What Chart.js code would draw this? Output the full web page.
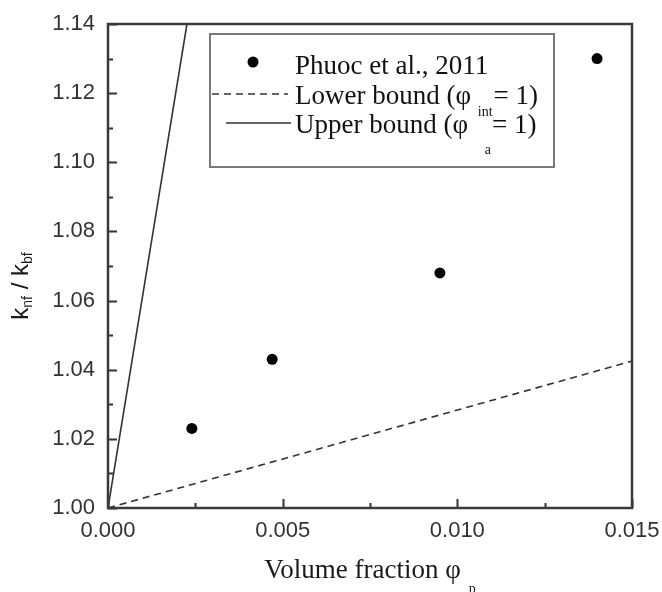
<!DOCTYPE html>
<html>
<head>
<meta charset="utf-8">
<script src="https://cdn.jsdelivr.net/npm/chart.js@4.4.1/dist/chart.umd.min.js"></script>
<style>
  html, body { margin: 0; padding: 0; background: #fff; }
  #wrap { width: 662px; height: 592px; }
</style>
</head>
<body>
<div id="wrap"><canvas id="kplot" width="662" height="592"></canvas></div>
<script>
// Phuoc et al., 2011 measurements
const phiData = [0.0024, 0.0047, 0.0095, 0.0140];
const kData = [1.023, 1.043, 1.068, 1.130];

// bound lines (end points)
const lowerPhi = [0, 0.015];
const lowerK = [1.0, 1.0425];
const upperPhi = [0, 0.00226];
const upperK = [1.0, 1.14];

// axis ticks
const xTicks = [0, 0.005, 0.010, 0.015];
const yTicks = [1.00, 1.02, 1.04, 1.06, 1.08, 1.10, 1.12, 1.14];

const SERIF = '"Liberation Serif", "Times New Roman", serif';
const SANS = '"Liberation Sans", Arial, sans-serif';

const pts = (xs, ys) => xs.map((v, i) => ({ x: v, y: ys[i] }));

// draws a run of text pieces (main text + subscripts) left to right
function richWidth(ctx, parts) {
  let w = 0;
  for (const p of parts) {
    ctx.font = p.font;
    w += ctx.measureText(p.text).width + (p.gap || 0);
  }
  return w;
}
function drawRich(ctx, parts, x, y) {
  for (const p of parts) {
    ctx.font = p.font;
    ctx.fillText(p.text, x, y + (p.dy || 0));
    x += ctx.measureText(p.text).width + (p.gap || 0);
  }
  return x;
}

const legendRows = [
  [{ text: 'Phuoc et al., 2011', font: '27px ' + SERIF }],
  [{ text: 'Lower bound (\u03c6 ', font: '27px ' + SERIF, gap: 0 },
   { text: 'int', font: '14px ' + SERIF, dy: 12, gap: 1 },
   { text: '= 1)', font: '27px ' + SERIF }],
  [{ text: 'Upper bound (\u03c6 ', font: '27px ' + SERIF, gap: 10 },
   { text: 'a', font: '14px ' + SERIF, dy: 21, gap: 1 },
   { text: '= 1)', font: '27px ' + SERIF }]
];

const xTitle = [
  { text: 'Volume fraction \u03c6', font: '27px ' + SERIF, gap: 8 },
  { text: 'p', font: '14px ' + SERIF, dy: 15 }
];
const yTitle = [
  { text: 'k', font: '24px ' + SANS },
  { text: 'nf', font: '14px ' + SANS, dy: 4 },
  { text: ' / ', font: '24px ' + SANS },
  { text: 'k', font: '24px ' + SANS },
  { text: 'bf', font: '14px ' + SANS, dy: 4 }
];

// frame, inward ticks, axis titles and the boxed legend
const decor = {
  id: 'decor',
  afterDraw(chart) {
    const { ctx, chartArea: a, scales: { x, y } } = chart;
    ctx.save();

    // inward major / minor ticks on the left and bottom axes
    ctx.strokeStyle = '#333';
    ctx.lineWidth = 2;
    ctx.beginPath();
    const xs = x.ticks.map(t => t.value);
    xs.forEach((v, i) => {
      const px = Math.round(x.getPixelForValue(v)) + 0.5;
      ctx.moveTo(px, a.bottom); ctx.lineTo(px, a.bottom - 9);
      if (i < xs.length - 1) {
        const mx = Math.round(x.getPixelForValue((v + xs[i + 1]) / 2)) + 0.5;
        ctx.moveTo(mx, a.bottom); ctx.lineTo(mx, a.bottom - 5);
      }
    });
    const ys = y.ticks.map(t => t.value);
    ys.forEach((v, i) => {
      const py = Math.round(y.getPixelForValue(v)) + 0.5;
      ctx.moveTo(a.left, py); ctx.lineTo(a.left + 9, py);
      if (i < ys.length - 1) {
        const my = Math.round(y.getPixelForValue((v + ys[i + 1]) / 2)) + 0.5;
        ctx.moveTo(a.left, my); ctx.lineTo(a.left + 5, my);
      }
    });
    ctx.stroke();

    // plot frame
    ctx.lineWidth = 2.5;
    ctx.strokeStyle = '#3a3a3a';
    ctx.strokeRect(a.left, a.top, a.right - a.left, a.bottom - a.top);

    // x axis title
    ctx.fillStyle = '#1a1a1a';
    ctx.textBaseline = 'alphabetic';
    ctx.textAlign = 'left';
    const cx = (a.left + a.right) / 2;
    drawRich(ctx, xTitle, cx - richWidth(ctx, xTitle) / 2, 578);

    // y axis title, rotated
    ctx.save();
    ctx.translate(28, 286);
    ctx.rotate(-Math.PI / 2);
    drawRich(ctx, yTitle, -richWidth(ctx, yTitle) / 2, 0);
    ctx.restore();

    // legend box
    const lx = a.left + 102, ly = a.top + 10, lw = 344, lh = 133;
    ctx.fillStyle = '#fff';
    ctx.fillRect(lx, ly, lw, lh);
    ctx.strokeStyle = '#7a7a7a';
    ctx.lineWidth = 2;
    ctx.strokeRect(lx, ly, lw, lh);

    const ds = chart.data.datasets;
    const base = [a.top + 50, a.top + 80, a.top + 109];
    // sample marks
    ctx.fillStyle = ds[0].backgroundColor;
    ctx.beginPath();
    ctx.arc(lx + 43, base[0] - 12, ds[0].pointRadius, 0, Math.PI * 2);
    ctx.fill();

    ctx.strokeStyle = ds[1].borderColor;
    ctx.lineWidth = ds[1].borderWidth;
    ctx.setLineDash(ds[1].borderDash);
    ctx.beginPath();
    ctx.moveTo(lx + 2, base[1] - 10); ctx.lineTo(lx + 78, base[1] - 10);
    ctx.stroke();

    ctx.setLineDash([]);
    ctx.strokeStyle = ds[2].borderColor;
    ctx.lineWidth = ds[2].borderWidth;
    ctx.beginPath();
    ctx.moveTo(lx + 16, base[2] - 10); ctx.lineTo(lx + 81, base[2] - 10);
    ctx.stroke();

    ctx.fillStyle = '#111';
    legendRows.forEach((row, i) => drawRich(ctx, row, lx + 85, base[i]));

    ctx.restore();
  }
};

new Chart(document.getElementById('kplot').getContext('2d'), {
  type: 'scatter',
  data: {
    datasets: [{
        label: 'Phuoc et al., 2011',
        data: pts(phiData, kData),
        backgroundColor: '#000',
        borderWidth: 0,
        pointRadius: 5.5,
        showLine: false
      },
      {
        label: 'Lower bound (\u03c6int = 1)',
        data: pts(lowerPhi, lowerK),
        showLine: true,
        borderColor: '#333',
        borderWidth: 1.6,
        borderDash: [7, 5],
        pointRadius: 0,
        fill: false
      },
      {
        label: 'Upper bound (\u03c6a = 1)',
        data: pts(upperPhi, upperK),
        showLine: true,
        borderColor: '#333',
        borderWidth: 1.6,
        pointRadius: 0,
        fill: false
      }
    ]
  },
  options: {
    responsive: false,
    animation: false,
    devicePixelRatio: 1,
    layout: { padding: { top: 24, right: 30, left: 0, bottom: 0 } },
    plugins: {
      legend: { display: false },
      tooltip: { enabled: false },
      title: { display: false }
    },
    scales: {
      x: {
        type: 'linear',
        min: 0,
        max: 0.015,
        afterBuildTicks: s => { s.ticks = xTicks.map(v => ({ value: v })); },
        afterFit: s => { s.height = 84; s.paddingLeft = 0; s.paddingRight = 0; },
        ticks: {
          callback: v => v.toFixed(3),
          font: { family: SANS, size: 22 },
          color: '#333',
          padding: 10,
          maxRotation: 0,
          autoSkip: false
        },
        grid: { display: false, drawTicks: false },
        border: { display: false }
      },
      y: {
        type: 'linear',
        min: 1.0,
        max: 1.14,
        afterBuildTicks: s => { s.ticks = yTicks.map(v => ({ value: v })); },
        afterFit: s => { s.width = 108; s.paddingTop = 0; s.paddingBottom = 0; },
        ticks: {
          callback: v => v.toFixed(2),
          font: { family: SANS, size: 22 },
          color: '#333',
          padding: 13,
          autoSkip: false
        },
        grid: { display: false, drawTicks: false },
        border: { display: false }
      }
    }
  },
  plugins: [decor]
});
</script>
</body>
</html>
